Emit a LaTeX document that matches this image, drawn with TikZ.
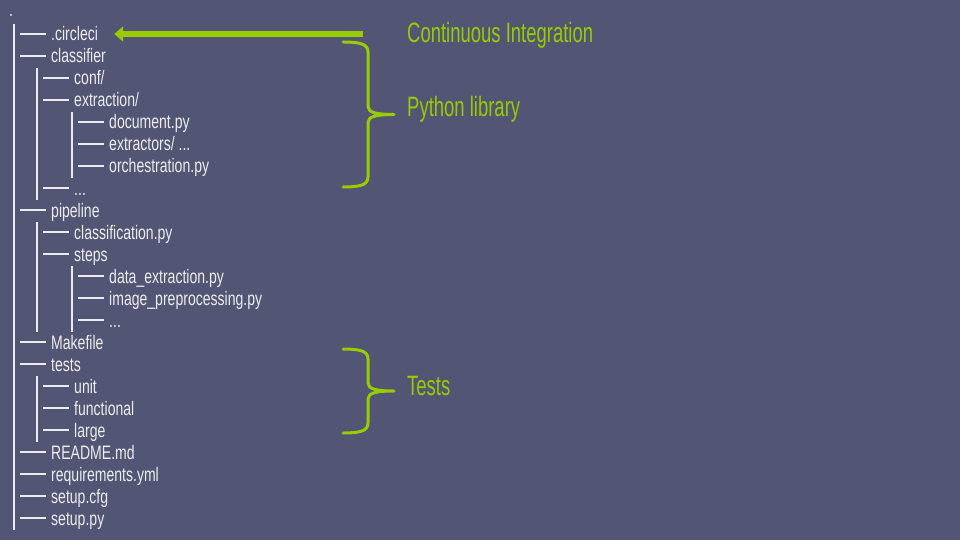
\documentclass[tikz,border=0pt]{standalone}
\usepackage{fontspec}
\setmainfont{Liberation Sans}[FakeStretch=0.72]
\newfontfamily\labelfont{Liberation Sans}[FakeStretch=0.66]
\usetikzlibrary{arrows.meta,calc}
\definecolor{slate}{RGB}{83,85,116}
\definecolor{cigreen}{RGB}{150,204,0}
\definecolor{treegray}{RGB}{236,236,236}
\newcommand\tdots{...}
\begin{document}
\begin{tikzpicture}[x=1pt,y=-1pt,>={Triangle[length=9pt,width=15pt]},
    treeline/.style={treegray,line width=1.4pt},
    treetext/.style={text=treegray,inner sep=0pt,anchor=base west,font=\fontsize{19.5}{22}\selectfont},
    note/.style={text=cigreen,inner sep=0pt,anchor=base west,font=\labelfont\fontsize{28}{32}\selectfont},
    brace/.style={cigreen,line width=3pt,line cap=round,line join=round}]
\fill[slate](0,0)rectangle(960,540);
\useasboundingbox(0,0)rectangle(960,540);

% the tree
\node[treetext](root) at (9,17){.};
\foreach \i/\tx/\txt in {0/51/.circleci,1/51/classifier,2/74/{conf/},3/74/{extraction/},
    4/109/document.py,5/109/{extractors/ \tdots},6/109/orchestration.py,7/74/\tdots,
    8/51/pipeline,9/74/classification.py,10/74/steps,11/109/data\_extraction.py,
    12/109/image\_preprocessing.py,13/109/\tdots,14/51/Makefile,15/51/tests,
    16/74/unit,17/74/functional,18/74/large,19/51/README.md,
    20/51/requirements.yml,21/51/setup.cfg,22/51/setup.py}
{
    \node[treetext](f\i) at (\tx,34+22*\i+7){\txt};
    \coordinate (d\i) at (\tx-31,34+22*\i);
    \draw[treeline](d\i)--++(26,0);
}
\foreach \a/\b in {0/22,2/7,4/6,9/13,11/13,16/18}
{
    \draw[treeline]($(d\a)+(-6,-10)$)--($(d\a|-d\b)+(-6,12)$);
}

% notes
\node[note](ci) at (407,43){Continuous Integration};
\node[note](pylib) at (407,117){Python library};
\node[note](tests) at (407,395){Tests};

\coordinate (ciarrow) at (363,34);
\draw[->,cigreen,line width=6pt,shorten >=16pt](ciarrow)--(ciarrow-|f0.east);

\foreach \t/\b in {42/187,349/433}
{
    \pgfmathsetmacro\m{(\t+\b)/2}
    \draw[brace](343,\t) .. controls (360,\t) and (368,\t+2) .. (368,\t+10)
        --(368,\m-8) .. controls (368,\m-2) and (376,\m) .. (394,\m)
        .. controls (376,\m) and (368,\m+2) .. (368,\m+8)
        --(368,\b-10) .. controls (368,\b-2) and (360,\b) .. (343,\b);
}
\end{tikzpicture}
\end{document}
